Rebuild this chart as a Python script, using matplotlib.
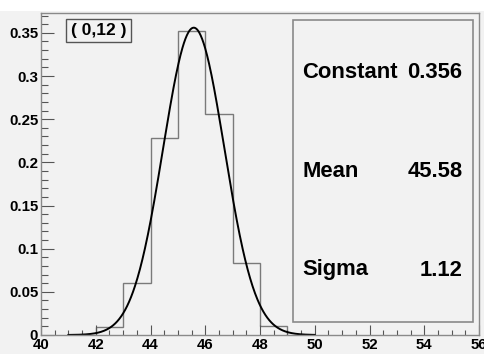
import numpy as np
import matplotlib
matplotlib.use("Agg")
from matplotlib import pyplot as plt
from matplotlib.patches import Rectangle
from matplotlib.ticker import MultipleLocator

plt.rcParams['font.family'] = ['Liberation Sans', 'DejaVu Sans']
plt.rcParams['font.weight'] = 'bold'

# normalised histogram, unit-width bins
bin_edges = [42, 43, 44, 45, 46, 47, 48, 49]
bin_values = [0.0093, 0.060, 0.228, 0.352, 0.256, 0.083, 0.011]

# gaussian fit result
fit_names = ["Constant", "Mean", "Sigma"]
fit_labels = ["0.356", "45.58", "1.12"]
fit_const = 0.356
fit_mean = 45.58
fit_sigma = 1.12
fit_range = (41, 50)

pad_label = "( 0,12 )"

W, H = 485, 354
bg = '#f2f2f2'
edge = '#8a8a8a'

fig = plt.figure(figsize=(W / 100, H / 100), dpi=100, facecolor=bg)

def fx(px):
    return px / W

def fy(py):
    return 1 - py / H

# white strip across the top of the canvas
fig.patches.append(Rectangle((0, fy(11)), 1, 11 / H, transform=fig.transFigure,
                             facecolor='white', edgecolor='none', zorder=0))

ax = fig.add_axes([fx(41), fy(335), fx(479) - fx(41), fy(13) - fy(335)])
ax.set_facecolor(bg)

ax.stairs(bin_values, bin_edges, baseline=0, color='#7a7a7a', lw=1.0)

xs = np.linspace(fit_range[0], fit_range[1], 500)
ys = fit_const * np.exp(-0.5 * ((xs - fit_mean) / fit_sigma) ** 2)
ax.plot(xs, ys, color='black', lw=1.4)

ax.set_xlim(40, 56)
ax.set_ylim(0, 0.373)

ax.xaxis.set_major_locator(MultipleLocator(2))
ax.xaxis.set_minor_locator(MultipleLocator(0.5))
ax.yaxis.set_major_locator(MultipleLocator(0.05))
ax.yaxis.set_minor_locator(MultipleLocator(0.01))
ax.set_yticks(np.arange(0, 0.351, 0.05))
ax.set_yticklabels(["0", "0.05", "0.1", "0.15", "0.2", "0.25", "0.3", "0.35"])
ax.set_xticks(np.arange(40, 57, 2))
ax.set_xticklabels([str(v) for v in range(40, 57, 2)])

ax.tick_params(axis='both', which='both', direction='in', color='#555555',
               labelsize=10.8)
ax.tick_params(axis='y', which='major', length=9.5, width=0.8, pad=2)
ax.tick_params(axis='y', which='minor', length=4.8, width=0.8)
ax.tick_params(axis='x', which='major', length=7, width=0.8, pad=2)
ax.tick_params(axis='x', which='minor', length=3.5, width=0.8)
for lab in ax.get_xticklabels() + ax.get_yticklabels():
    lab.set_fontweight('bold')
for sp in ax.spines.values():
    sp.set_color(edge)
    sp.set_linewidth(1.0)

# fit statistics box
fig.patches.append(Rectangle((fx(293), fy(321.7)), fx(472.7) - fx(293),
                             fy(20) - fy(321.7), transform=fig.transFigure,
                             facecolor='none', edgecolor=edge, lw=1.2, zorder=5))
for name, val, yc in zip(fit_names, fit_labels, [72, 171, 270]):
    fig.text(fx(302.5), fy(yc), name, fontsize=15.8, fontweight='bold',
             ha='left', va='center')
    fig.text(fx(462.5), fy(yc), val, fontsize=15.8, fontweight='bold',
             ha='right', va='center')

# label pave in the upper left
fig.patches.append(Rectangle((fx(65.7), fy(42.3)), fx(131) - fx(65.7),
                             fy(19.3) - fy(42.3), transform=fig.transFigure,
                             facecolor=bg, edgecolor='#555555', lw=1.0, zorder=5))
fig.text(fx(98.4), fy(30.8), pad_label, fontsize=12.5, fontweight='bold',
         ha='center', va='center', zorder=6)

fig.savefig("out.png", dpi=100, facecolor=bg)
